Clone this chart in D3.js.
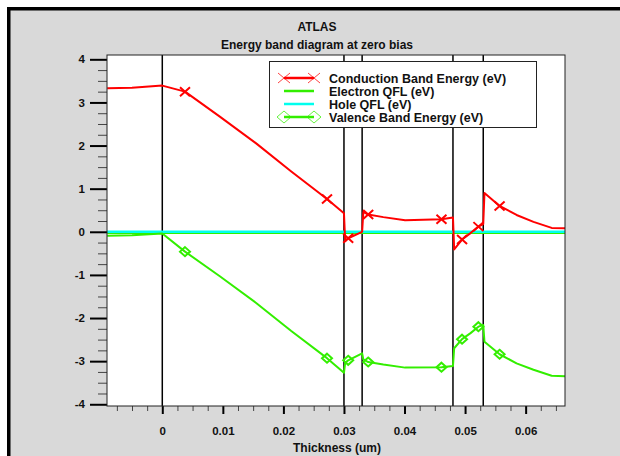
<!DOCTYPE html>
<html>
<head>
<meta charset="utf-8">
<script src="https://cdn.jsdelivr.net/npm/d3@7"></script>
<style>
  html, body { margin: 0; padding: 0; background: #ffffff; }
  svg { display: block; }
  text { font-family: "Liberation Sans", Arial, sans-serif; font-weight: bold; fill: #111; }
</style>
</head>
<body>
<svg id="chart" width="620" height="456"></svg>
<script>
// Mesh positions (um) shared by both band edges
const thickness = [-0.0091, -0.005, 0, 0.00375, 0.0095, 0.0155, 0.0213, 0.0272, 0.03,
  0.0302, 0.0307, 0.033, 0.0332, 0.034, 0.0365, 0.0401, 0.0461, 0.048,
  0.0482, 0.0495, 0.0509, 0.0522, 0.053, 0.0532, 0.0557, 0.0585, 0.0613, 0.0643, 0.0665];
// Conduction band energy (eV)
const conduction = [3.33, 3.34, 3.39, 3.25, 2.67, 2.05, 1.40, 0.76, 0.43,
  -0.22, -0.15, 0.00, 0.46, 0.40, 0.34, 0.27, 0.29, 0.33,
  -0.41, -0.18, -0.03, 0.12, 0.18, 0.90, 0.60, 0.39, 0.23, 0.09, 0.08];
// Valence band energy (eV)
const valence = [-0.09, -0.08, -0.04, -0.46, -1.03, -1.65, -2.30, -2.93, -3.27,
  -3.04, -2.98, -2.82, -2.96, -3.02, -3.08, -3.15, -3.14, -3.11,
  -2.70, -2.49, -2.35, -2.20, -2.16, -2.55, -2.84, -3.05, -3.20, -3.34, -3.35];
// Quasi-Fermi levels (eV) at the two ends of the structure
const qflX = [-0.0091, 0.0665];
const electronQFL = [0, 0];
const holeQFL = [0, 0];
// Mesh points carrying symbols
const markerAt = [0.00375, 0.0272, 0.0307, 0.034, 0.0461, 0.0495, 0.0522, 0.0557];
// Material interfaces (um)
const interfaces = [0, 0.03, 0.033, 0.048, 0.053];
// Axis ticks
const xTicks = [0, 0.01, 0.02, 0.03, 0.04, 0.05, 0.06];
const xTickLabels = ["0", "0.01", "0.02", "0.03", "0.04", "0.05", "0.06"];
const yTicks = [-4, -3, -2, -1, 0, 1, 2, 3, 4];
const yTickLabels = ["-4", "-3", "-2", "-1", "0", "1", "2", "3", "4"];
const legendLabels = ["Conduction Band Energy (eV)", "Electron QFL (eV)", "Hole QFL (eV)", "Valence Band Energy (eV)"];

const RED = "#ff0000", GREEN = "#33ee00", CYAN = "#00ffee";

const svg = d3.select("#chart");
const plot = { left: 107, top: 55, right: 565, bottom: 406 };

// outer panel
svg.append("rect").attr("x", 8.75).attr("y", 8.75).attr("width", 700).attr("height", 600)
  .attr("fill", "#d9d9d9").attr("stroke", "#000").attr("stroke-width", 3.5);

const x = d3.scaleLinear().domain([-0.00913, 0.0665]).range([plot.left, plot.right]);
const y = d3.scaleLinear().domain([-4.04, 4.1]).range([plot.bottom, plot.top]);

svg.append("rect").attr("x", plot.left).attr("y", plot.top)
  .attr("width", plot.right - plot.left).attr("height", plot.bottom - plot.top)
  .attr("fill", "#fff");

// titles
svg.append("text").attr("x", 317).attr("y", 31).attr("text-anchor", "middle")
  .style("font-size", "12px").text("ATLAS");
svg.append("text").attr("x", 317).attr("y", 48.5).attr("text-anchor", "middle")
  .style("font-size", "12px").text("Energy band diagram at zero bias");

// y axis: minor then major ticks
const yMinor = d3.range(-4, 4.01, 0.25).filter(v => Math.abs(v - Math.round(v)) > 1e-6);
const yMinorAxis = svg.append("g").attr("transform", `translate(${plot.left},0)`)
  .call(d3.axisLeft(y).tickValues(yMinor).tickSize(9).tickFormat(""));
yMinorAxis.select(".domain").remove();
yMinorAxis.selectAll("line").attr("stroke", "#444").attr("stroke-width", 1);

const yAxis = svg.append("g").attr("transform", `translate(${plot.left},0)`)
  .call(d3.axisLeft(y).tickValues(yTicks).tickSize(17).tickPadding(5)
    .tickFormat((d, i) => yTickLabels[i]));
yAxis.select(".domain").remove();
yAxis.selectAll("line").attr("stroke", "#000").attr("stroke-width", 2);
yAxis.selectAll("text").style("font-size", "11.5px").style("font-family", null).attr("fill", "#111");

// x axis
const xMinor = d3.range(-0.0075, 0.0666, 0.0025).filter(v => Math.abs(v / 0.01 - Math.round(v / 0.01)) > 1e-6);
const xMinorAxis = svg.append("g").attr("transform", `translate(0,${plot.bottom})`)
  .call(d3.axisBottom(x).tickValues(xMinor).tickSize(5).tickFormat(""));
xMinorAxis.select(".domain").remove();
xMinorAxis.selectAll("line").attr("stroke", "#444").attr("stroke-width", 1);

const xAxis = svg.append("g").attr("transform", `translate(0,${plot.bottom})`)
  .call(d3.axisBottom(x).tickValues(xTicks).tickSize(8).tickPadding(12.5)
    .tickFormat((d, i) => xTickLabels[i]));
xAxis.select(".domain").remove();
xAxis.selectAll("line").attr("stroke", "#000").attr("stroke-width", 2);
xAxis.selectAll("text").style("font-size", "11.5px").style("font-family", null).attr("fill", "#111");

svg.append("text").attr("x", 337).attr("y", 452).attr("text-anchor", "middle")
  .style("font-size", "12px").text("Thickness (um)");

// plotted content, clipped to the frame
svg.append("clipPath").attr("id", "clip").append("rect")
  .attr("x", plot.left).attr("y", plot.top)
  .attr("width", plot.right - plot.left).attr("height", plot.bottom - plot.top);
const g = svg.append("g").attr("clip-path", "url(#clip)");

// interface lines
g.selectAll("line.iface").data(interfaces).join("line").attr("class", "iface")
  .attr("x1", d => x(d)).attr("x2", d => x(d))
  .attr("y1", plot.top).attr("y2", plot.bottom)
  .attr("stroke", "#000").attr("stroke-width", 1.5);

const line = d3.line().x(d => x(d[0])).y(d => y(d[1]));
const pairs = (xs, vs) => xs.map((v, i) => [v, vs[i]]);

g.append("path").datum(pairs(qflX, electronQFL)).attr("d", line)
  .attr("transform", "translate(0,1)")
  .attr("fill", "none").attr("stroke", GREEN).attr("stroke-width", 2.5);
g.append("path").datum(pairs(qflX, holeQFL)).attr("d", line)
  .attr("fill", "none").attr("stroke", CYAN).attr("stroke-width", 2.5);

const cPts = pairs(thickness, conduction);
const vPts = pairs(thickness, valence);
g.append("path").datum(cPts).attr("d", line)
  .attr("fill", "none").attr("stroke", RED).attr("stroke-width", 2).attr("stroke-linejoin", "round");
g.append("path").datum(vPts).attr("d", line)
  .attr("fill", "none").attr("stroke", GREEN).attr("stroke-width", 2).attr("stroke-linejoin", "round");

const isMarked = d => markerAt.some(m => Math.abs(m - d[0]) < 1e-9);
const crossPath = (w, h) => `M${-w},${-h}L${w},${h}M${-w},${h}L${w},${-h}`;
const diamondPath = (w, h) => `M0,${-h}L${w},0L0,${h}L${-w},0Z`;

g.selectAll("path.cross").data(cPts.filter(isMarked)).join("path").attr("class", "cross")
  .attr("transform", d => `translate(${x(d[0])},${y(d[1])})`)
  .attr("d", crossPath(5, 4.5)).attr("fill", "none").attr("stroke", RED).attr("stroke-width", 2);
g.selectAll("path.diam").data(vPts.filter(isMarked)).join("path").attr("class", "diam")
  .attr("transform", d => `translate(${x(d[0])},${y(d[1])})`)
  .attr("d", diamondPath(5, 4.5)).attr("fill", "none").attr("stroke", GREEN).attr("stroke-width", 2);

// frame
svg.append("rect").attr("x", plot.left).attr("y", plot.top)
  .attr("width", plot.right - plot.left).attr("height", plot.bottom - plot.top)
  .attr("fill", "none").attr("stroke", "#222").attr("stroke-width", 1);

// legend
const lg = svg.append("g");
lg.append("rect").attr("x", 269.5).attr("y", 61.5).attr("width", 267).attr("height", 66)
  .attr("fill", "#fff").attr("stroke", "#222").attr("stroke-width", 1);
const legendColors = [RED, GREEN, CYAN, GREEN];
const rowY = [78, 91, 104, 117];
legendLabels.forEach((lab, i) => {
  const yy = rowY[i];
  lg.append("line").attr("x1", 284).attr("x2", 314).attr("y1", yy).attr("y2", yy)
    .attr("stroke", legendColors[i]).attr("stroke-width", 2.5);
  if (i === 0 || i === 3) {
    [284, 314].forEach(xx => {
      lg.append("path").attr("transform", `translate(${xx},${yy})`)
        .attr("d", i === 0 ? crossPath(6, 5) : diamondPath(7, 6))
        .attr("fill", "none").attr("stroke", legendColors[i]).attr("stroke-width", 1)
        .attr("opacity", 0.75);
    });
  }
  lg.append("text").attr("x", 329).attr("y", yy + 4.5).style("font-size", "12.5px").text(lab);
});
</script>
</body>
</html>
